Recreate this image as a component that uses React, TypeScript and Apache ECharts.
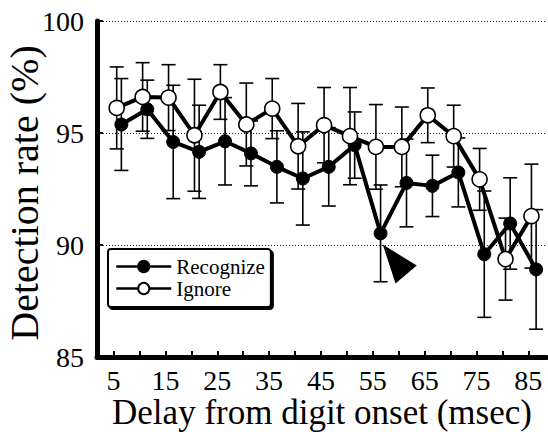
import React, { useEffect, useRef } from "react";
import * as echarts from "echarts";

const delays = [5, 10, 15, 20, 25, 30, 35, 40, 45, 50, 55, 60, 65, 70, 75, 80, 85];
const tickValues = [5, 10, 15, 20, 25, 30, 35, 40, 45, 50, 55, 60, 65, 70, 75, 80, 85];
const labelValues = [5, 15, 25, 35, 45, 55, 65, 75, 85];
const recognize = [95.38, 96.06, 94.6, 94.16, 94.63, 94.09, 93.49, 92.97, 93.49, 94.46, 90.52, 92.77, 92.64, 93.24, 89.59, 90.96, 88.91];
const recognizeErr = [2.05, 1.3, 2.53, 2.08, 1.95, 1.45, 1.61, 2.08, 1.75, 1.48, 2.16, 1.96, 1.37, 1.54, 2.82, 2.04, 2.67];
const ignore = [96.12, 96.61, 96.58, 94.9, 96.83, 95.38, 96.09, 94.41, 95.35, 94.86, 94.38, 94.38, 95.79, 94.86, 92.93, 89.37, 91.29];
const ignoreErr = [1.83, 1.53, 1.47, 2.5, 1.22, 1.85, 1.34, 1.91, 1.68, 2.17, 1.89, 1.78, 1.22, 1.38, 1.38, 1.83, 2.32];
const arrowCoord = [60.2, 89.15];
const yTitle = "Detection rate (%)";
const xTitle = "Delay from digit onset (msec)";

const IGNORE_SHIFT = 0.6;
const RECOG_SHIFT = 1.5;
const FONT = "Liberation Serif";

function errData(means: number[], errs: number[], shift: number) {
  return delays.map((d, i) => [d + shift, means[i] - errs[i], means[i] + errs[i]]);
}

function errSeries(data: number[][]) {
  return {
    type: "custom",
    silent: true,
    renderItem: (params: any, api: any) => {
      const x = api.value(0);
      const lo = api.coord([x, api.value(1)]);
      const hi = api.coord([x, api.value(2)]);
      const hw = 7;
      const st = { stroke: "#000", lineWidth: 1.6 };
      return {
        type: "group",
        children: [
          { type: "line", shape: { x1: lo[0], y1: lo[1], x2: hi[0], y2: hi[1] }, style: st },
          { type: "line", shape: { x1: lo[0] - hw, y1: lo[1], x2: lo[0] + hw, y2: lo[1] }, style: st },
          { type: "line", shape: { x1: hi[0] - hw, y1: hi[1], x2: hi[0] + hw, y2: hi[1] }, style: st },
        ],
      };
    },
    encode: { x: 0, y: [1, 2] },
    data,
    z: 1,
  };
}

export default function App() {
  const ref = useRef<HTMLDivElement>(null);
  useEffect(() => {
    const chart = echarts.init(ref.current!, null, { renderer: "svg" });
    chart.setOption({
      animation: false,
      backgroundColor: "#fff",
      textStyle: { fontFamily: FONT },
      grid: { left: 97, right: 1, top: 21, bottom: 75, containLabel: false, outerBoundsMode: "none" },
      graphic: [
        {
          type: "text",
          x: 24,
          y: 193,
          rotation: Math.PI / 2,
          style: {
            text: yTitle,
            fontFamily: FONT,
            fontSize: 40,
            fill: "#000",
            align: "center",
            verticalAlign: "middle",
          },
        },
      ],
      legend: {
        data: ["Recognize", "Ignore"],
        orient: "vertical",
        left: 108,
        top: 249,
        itemWidth: 55,
        itemHeight: 14,
        itemGap: 1,
        padding: [7, 6, 8, 7],
        backgroundColor: "#fff",
        borderColor: "#000",
        borderWidth: 2,
        borderRadius: 3,
        shadowColor: "#000",
        shadowOffsetX: 2,
        shadowOffsetY: 2,
        shadowBlur: 0,
        lineStyle: { width: 2.5 },
        textStyle: { fontFamily: FONT, fontSize: 21, color: "#000" },
      },
      xAxis: {
        type: "value",
        min: 1.8,
        max: 88.6,
        name: xTitle,
        nameLocation: "middle",
        nameGap: 38,
        nameMoveOverlap: false,
        nameTextStyle: { fontFamily: FONT, fontSize: 35, color: "#000" },
        axisLine: { show: true, onZero: false, lineStyle: { color: "#000", width: 5 } },
        axisTick: { show: true, inside: true, length: 6, lineStyle: { color: "#000", width: 2 }, customValues: tickValues },
        axisLabel: { fontFamily: FONT, fontSize: 28, color: "#000", margin: 9, customValues: labelValues },
        splitLine: { show: false },
      },
      yAxis: {
        type: "value",
        min: 85,
        max: 100,
        interval: 5,
        axisLine: { show: true, onZero: false, lineStyle: { color: "#000", width: 5 } },
        axisTick: { show: true, inside: true, length: 6, lineStyle: { color: "#000", width: 2 } },
        axisLabel: { fontFamily: FONT, fontSize: 28, color: "#000", margin: 13 },
        splitLine: { show: true, lineStyle: { color: "#222", width: 1, type: [1, 2] } },
      },
      series: [
        errSeries(errData(recognize, recognizeErr, RECOG_SHIFT)),
        errSeries(errData(ignore, ignoreErr, IGNORE_SHIFT)),
        {
          name: "Recognize",
          type: "line",
          data: delays.map((d, i) => [d + RECOG_SHIFT, recognize[i]]),
          symbol: "circle",
          symbolSize: 13,
          lineStyle: { color: "#000", width: 4 },
          itemStyle: { color: "#000", borderColor: "#000", borderWidth: 1 },
          z: 2,
          markPoint: {
            silent: true,
            data: [
              {
                coord: arrowCoord,
                symbol: "path://M0,0 L32,20 L12,37 Z",
                symbolSize: [34, 39],
                itemStyle: { color: "#000" },
                label: { show: false },
              },
            ],
          },
        },
        {
          name: "Ignore",
          type: "line",
          data: delays.map((d, i) => [d + IGNORE_SHIFT, ignore[i]]),
          symbol: "circle",
          symbolSize: 15,
          lineStyle: { color: "#000", width: 4 },
          itemStyle: { color: "#fff", borderColor: "#000", borderWidth: 1.6 },
          z: 3,
        },
      ],
    });
    return () => chart.dispose();
  }, []);
  return (
    <div
      ref={ref}
      style={{ position: "fixed", left: 0, top: 0, width: 548, height: 432, background: "#fff" }}
    />
  );
}
